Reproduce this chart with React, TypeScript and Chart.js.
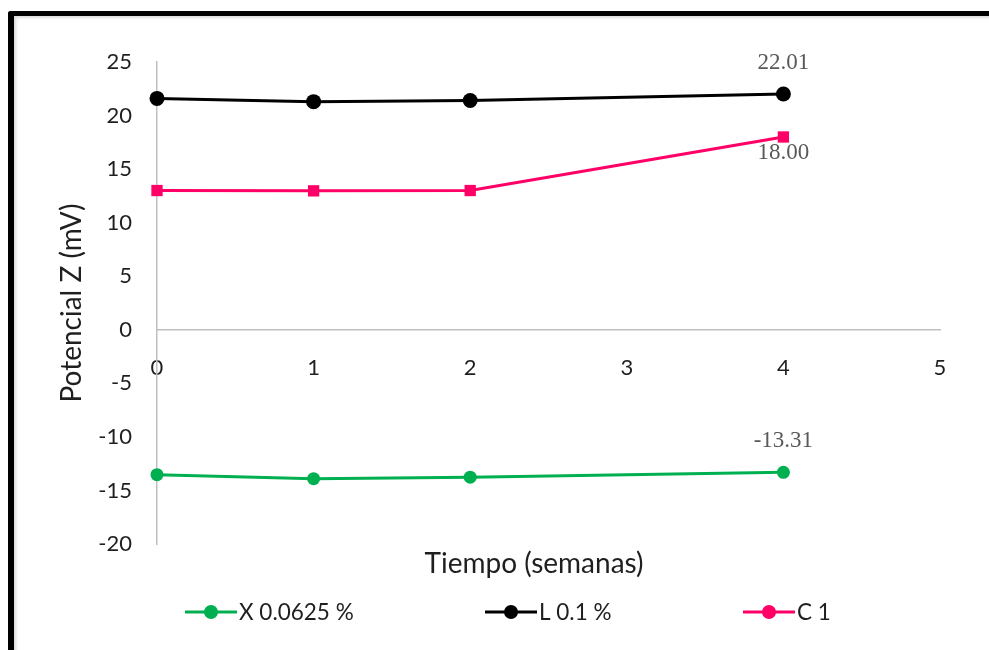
import React, { useEffect, useRef } from "react";
import { Chart, registerables } from "chart.js";

Chart.register(...registerables);

// Semanas de medición
const weeks = [0, 1, 2, 4];

// Potencial Z (mV) por formulación
const seriesX = [-13.53, -13.9, -13.76, -13.31];
const seriesL = [21.6, 21.3, 21.4, 22.01];
const seriesC = [13.0, 12.97, 13.0, 18.0];

const seriesNames = ["X 0.0625 %", "L 0.1 %", "C 1"];
const seriesColors = ["#00b050", "#000000", "#ff0066"];

const xTitle = "Tiempo (semanas)";
const yTitle = "Potencial Z (mV)";

const yMin = -20;
const yMax = 25;
const yStep = 5;
const xMin = 0;
const xMax = 5;
const xStep = 1;

const SANS = "Lato, 'Open Sans', sans-serif";
const LABEL_FONT = "'Liberation Serif', 'DejaVu Serif', serif";

const toPoints = (vals: number[]) => weeks.map((w, i) => ({ x: w, y: vals[i] }));

// Titles, legend and value labels drawn on top of the chart
const decorations = {
  id: "decorations",
  afterDraw(chart: any) {
    const { ctx, chartArea } = chart;
    ctx.save();

    // axis titles
    ctx.fillStyle = "#1f1f1f";
    ctx.font = `28px ${SANS}`;
    ctx.textAlign = "center";
    ctx.textBaseline = "middle";
    ctx.fillText(xTitle, chartArea.left + 377, chartArea.bottom + 20);

    ctx.save();
    ctx.translate(72, (chartArea.top + chartArea.bottom) / 2);
    ctx.rotate(-Math.PI / 2);
    ctx.font = `28px ${SANS}`;
    ctx.fillText(yTitle, 0, 0);
    ctx.restore();

    // value labels on the last point of each series
    const labelPlacement = [-31, -31, 16];
    ctx.font = `23px ${LABEL_FONT}`;
    ctx.fillStyle = "#595959";
    chart.data.datasets.forEach((ds: any, di: number) => {
      const meta = chart.getDatasetMeta(di);
      const last = meta.data.length - 1;
      const pt = meta.data[last];
      const v = ds.data[last].y;
      ctx.fillText(v.toFixed(2), pt.x, pt.y + labelPlacement[di]);
    });

    // legend: line with marker, then text
    const legendY = chartArea.bottom + 68;
    const legendStarts = [185, 485, 743];
    ctx.font = `22.5px ${SANS}`;
    ctx.textAlign = "left";
    seriesNames.forEach((name, i) => {
      const x0 = legendStarts[i];
      ctx.strokeStyle = seriesColors[i];
      ctx.lineWidth = 3;
      ctx.beginPath();
      ctx.moveTo(x0, legendY);
      ctx.lineTo(x0 + 52, legendY);
      ctx.stroke();
      ctx.fillStyle = seriesColors[i];
      ctx.beginPath();
      ctx.arc(x0 + 26, legendY, 7, 0, Math.PI * 2);
      ctx.fill();
      ctx.fillStyle = "#1f1f1f";
      ctx.fillText(name, x0 + 54, legendY + 1);
    });

    ctx.restore();
  },
};

export default function App() {
  const canvasRef = useRef<HTMLCanvasElement | null>(null);

  useEffect(() => {
    const canvas = canvasRef.current;
    if (!canvas) return;

    const chart = new Chart(canvas, {
      type: "line",
      data: {
        datasets: [
          {
            label: seriesNames[0],
            data: toPoints(seriesX),
            borderColor: seriesColors[0],
            backgroundColor: seriesColors[0],
            borderWidth: 3,
            pointStyle: "circle",
            pointRadius: 6.5,
            pointBorderWidth: 0,
            clip: false,
          },
          {
            label: seriesNames[1],
            data: toPoints(seriesL),
            borderColor: seriesColors[1],
            backgroundColor: seriesColors[1],
            borderWidth: 3,
            pointStyle: "circle",
            pointRadius: 7.5,
            pointBorderWidth: 0,
            clip: false,
          },
          {
            label: seriesNames[2],
            data: toPoints(seriesC),
            borderColor: seriesColors[2],
            backgroundColor: seriesColors[2],
            borderWidth: 3,
            pointStyle: "rect",
            pointRadius: 8,
            pointBorderWidth: 0,
            clip: false,
          },
        ],
      },
      options: {
        animation: false,
        responsive: false,
        maintainAspectRatio: false,
        layout: { padding: { left: 0, top: 62, right: 49, bottom: 106 } },
        plugins: {
          legend: { display: false },
          tooltip: { enabled: false },
          title: { display: false },
        },
        scales: {
          x: {
            type: "linear",
            position: { y: 0 },
            min: xMin,
            max: xMax,
            grid: { display: false, drawTicks: false },
            border: { display: true, color: "#bfbfbf", width: 1.5 },
            ticks: {
              stepSize: xStep,
              padding: 25,
              color: "#1f1f1f",
              font: { family: SANS, size: 22 },
            },
            afterFit: (scale: any) => {
              scale.height = 0;
            },
          },
          y: {
            type: "linear",
            position: "left",
            min: yMin,
            max: yMax,
            grid: { display: false, drawTicks: false },
            border: { display: true, color: "#bfbfbf", width: 1.5 },
            ticks: {
              stepSize: yStep,
              padding: 25,
              color: "#1f1f1f",
              font: { family: SANS, size: 22 },
            },
            afterFit: (scale: any) => {
              scale.width = 157;
            },
          },
        },
      },
      plugins: [decorations],
    });

    return () => chart.destroy();
  }, []);

  return (
    <div
      style={{
        position: "fixed",
        left: 0,
        top: 0,
        width: 989,
        height: 650,
        background: "#ffffff",
        overflow: "hidden",
      }}
    >
      <div
        style={{
          position: "absolute",
          left: 8,
          top: 11,
          width: 1100,
          height: 800,
          borderLeft: "6px solid #000000",
          borderTop: "5px solid #000000",
          borderTopLeftRadius: 3,
          boxShadow: "inset 2px 2px 3px rgba(0,0,0,0.15)",
        }}
      />
      <canvas
        ref={canvasRef}
        width={989}
        height={650}
        style={{ position: "absolute", left: 0, top: 0, width: 989, height: 650 }}
      />
    </div>
  );
}
